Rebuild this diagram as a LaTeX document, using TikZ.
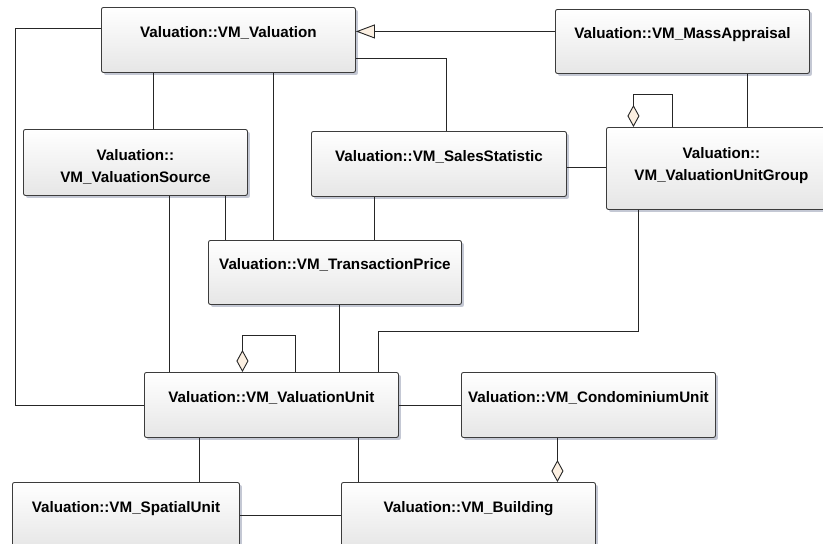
\documentclass[tikz,border=0pt]{standalone}
\usepackage{fontspec}
\setmainfont{Liberation Sans}
\usepackage{tikz}
\usetikzlibrary{arrows.meta}
\usetikzlibrary{shadows}
\usepackage{xcolor}
\definecolor{boxline}{HTML}{3C3C3C}
\definecolor{boxlow}{HTML}{E6E6E6}
\definecolor{shadowc}{HTML}{C4C8D4}
\definecolor{tipfill}{HTML}{FCF0E2}

\tikzset{
  umlclass/.style={draw=boxline, line width=0.9pt, rounded corners=2pt,
    top color=white, bottom color=boxlow, anchor=north west,
    drop shadow={shadow xshift=2.5pt, shadow yshift=-2.5pt, fill=shadowc, opacity=1},
    minimum width=254pt, minimum height=65pt, inner xsep=2pt, inner ysep=0pt,
    text height=20pt, text depth=25pt, align=center,
    font=\fontsize{15.2}{22}\selectfont\bfseries},
  assoc/.style={draw=black!85, line width=0.9pt},
  agg/.style={assoc, -{Diamond[length=22pt, width=12pt, fill=tipfill]}},
  gen/.style={assoc, -{Triangle[open, length=19pt, width=14pt, fill=tipfill]}}
}

\begin{document}
\begin{tikzpicture}[x=1pt, y=-1pt]
\useasboundingbox (0,0) rectangle (823,544);
\node[umlclass] (val) at (101,7) {Valuation::VM\_Valuation};
\node[umlclass, minimum height=64pt] (mass) at (555,9) {Valuation::VM\_MassAppraisal};
\node[umlclass, minimum width=224pt, minimum height=66pt, text height=45pt, text depth=4pt] (src) at (23,129) {Valuation::\\VM\_ValuationSource};
\node[umlclass, minimum width=255pt] (stat) at (311,131) {Valuation::VM\_SalesStatistic};
\node[umlclass, minimum width=230pt, minimum height=82pt, text height=45pt, text depth=20pt] (grp) at (606,127) {Valuation::\\VM\_ValuationUnitGroup};
\node[umlclass, minimum width=253pt, minimum height=64pt] (price) at (208,240) {Valuation::VM\_TransactionPrice};
\node[umlclass] (unit) at (144,372) {Valuation::VM\_ValuationUnit};
\node[umlclass] (condo) at (461,372) {Valuation::VM\_CondominiumUnit};
\node[umlclass, minimum width=227pt, minimum height=66pt] (spatial) at (12,482) {Valuation::VM\_SpatialUnit};
\node[umlclass, minimum height=66pt] (bldg) at (341,482) {Valuation::VM\_Building};

\draw[gen] ([yshift=10pt]mass.west) -- ([yshift=10pt]mass.west -| val.east);
\draw[assoc] ([yshift=-18.5pt]val.east) -| ([xshift=7.5pt]stat.north);
\draw[assoc] ([yshift=-21pt]val.north west) -| ([xshift=-129pt]unit.west) -- (unit.west);
\draw[assoc] ([xshift=-75pt]val.south) -- ([xshift=-75pt]val.south |- src.north);
\draw[assoc] ([xshift=45pt]val.south) -- ([xshift=45pt]val.south |- price.north);
\draw[assoc] ([xshift=90pt]src.south) -- ([xshift=90pt]src.south |- price.north);
\draw[assoc] ([xshift=34pt]src.south) -- ([xshift=34pt]src.south |- unit.north);
\draw[assoc] ([xshift=-64.5pt]stat.south) -- ([xshift=-64.5pt]stat.south |- price.north);
\draw[assoc] ([yshift=-3pt]stat.east) -- ([yshift=-3pt]stat.east -| grp.west);
\draw[agg] ([xshift=-49pt]grp.north) -- ++(0,-33) -| ([xshift=-88pt]grp.north);
\draw[assoc] ([xshift=65pt]mass.south) -- ([xshift=65pt]mass.south |- grp.north);
\draw[assoc] ([xshift=-83pt]grp.south) |- ([xshift=107pt, yshift=41pt]unit.north) -- ([xshift=107pt]unit.north);
\draw[assoc] ([xshift=68pt]unit.north |- price.south) -- ([xshift=68pt]unit.north);
\draw[agg] ([xshift=24pt]unit.north) -- ++(0,-37) -| ([xshift=-29pt]unit.north);
\draw[assoc] (unit.east) -- (condo.west);
\draw[assoc] ([xshift=-72pt]unit.south) -- ([xshift=-72pt]unit.south |- spatial.north);
\draw[assoc] ([xshift=87pt]unit.south) -- ([xshift=87pt]unit.south |- bldg.north);
\draw[assoc] (spatial.east) -- (bldg.west);
\draw[agg] ([xshift=-31pt]condo.south) -- ([xshift=-31pt]condo.south |- bldg.north);
\end{tikzpicture}
\end{document}
